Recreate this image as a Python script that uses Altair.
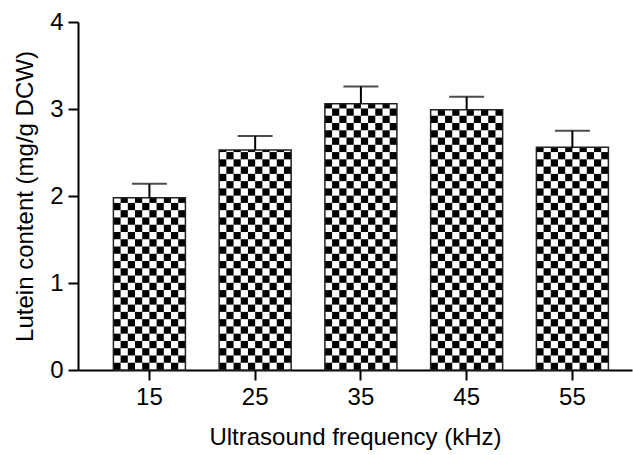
import altair as alt
import pandas as pd

freq = ["15", "25", "35", "45", "55"]
lutein = [1.98, 2.53, 3.06, 2.99, 2.56]
err = [0.16, 0.16, 0.20, 0.15, 0.19]

df = pd.DataFrame({"freq": freq, "lutein": lutein, "err": err})

FONT = "Liberation Sans"
CELL = 0.0835  # checker cell height in data units

x_enc = alt.X(
    "freq:N",
    sort=freq,
    scale=alt.Scale(paddingInner=0.319, paddingOuter=0.279, align=0.6),
    axis=alt.Axis(
        title="Ultrasound frequency (kHz)",
        labelAngle=0,
        titlePadding=16,
        labelPadding=5,
    ),
)
y_scale = alt.Scale(domain=[0, 4], nice=False)
y_axis = alt.Axis(
    title="Lutein content (mg/g DCW)",
    values=[0, 1, 2, 3, 4],
    format="d",
    labelPadding=5,
    titlePadding=12,
)

base = alt.Chart(df)

white = base.mark_bar(fill="white", strokeWidth=0).encode(
    x=x_enc, y=alt.Y("lutein:Q", scale=y_scale, axis=y_axis)
)

cells = (
    base.transform_calculate(cols="sequence(0, 10)")
    .transform_flatten(["cols"])
    .transform_calculate(rows=f"sequence(0, ceil(datum.lutein / {CELL}))")
    .transform_flatten(["rows"])
    .transform_calculate(
        y0=f"datum.rows * {CELL}",
        y1=f"min((datum.rows + 1) * {CELL}, datum.lutein)",
        parity="(datum.rows + datum.cols) % 2",
    )
    .transform_filter("datum.parity == 0 && datum.y1 > datum.y0")
    .mark_bar(fill="black", strokeWidth=0)
    .encode(
        x=x_enc,
        xOffset=alt.XOffset(
            "cols:O",
            scale=alt.Scale(domain=list(range(10)), paddingInner=0, paddingOuter=0),
        ),
        y=alt.Y("y0:Q", scale=y_scale, axis=y_axis),
        y2="y1:Q",
    )
)

outline = base.mark_bar(fillOpacity=0, stroke="#222222", strokeWidth=1.5).encode(
    x=x_enc, y=alt.Y("lutein:Q", scale=y_scale, axis=y_axis)
)

errs = base.transform_calculate(upper="datum.lutein + datum.err")

rule = errs.mark_rule(color="black", strokeWidth=2).encode(
    x=x_enc, y=alt.Y("lutein:Q", scale=y_scale, axis=y_axis), y2="upper:Q"
)

cap = errs.mark_tick(color="black", size=35, thickness=2, orient="horizontal").encode(
    x=x_enc, y=alt.Y("upper:Q", scale=y_scale, axis=y_axis)
)

chart = (
    alt.layer(white, cells, outline, rule, cap)
    .properties(
        width=554,
        height=348,
        padding={"left": 78, "top": 22, "right": 1, "bottom": 85},
        autosize=alt.AutoSizeParams(type="none"),
        background="white",
    )
    .configure_view(stroke=None)
    .configure_axis(
        grid=False,
        domainColor="black",
        domainWidth=2,
        tickColor="black",
        tickWidth=2,
        tickSize=10,
        labelFont=FONT,
        titleFont=FONT,
        labelFontSize=24,
        titleFontSize=24,
        titleFontWeight="normal",
        labelColor="black",
        titleColor="black",
    )
)

chart.save("out.html", embed_options={"renderer": "svg", "actions": False})
